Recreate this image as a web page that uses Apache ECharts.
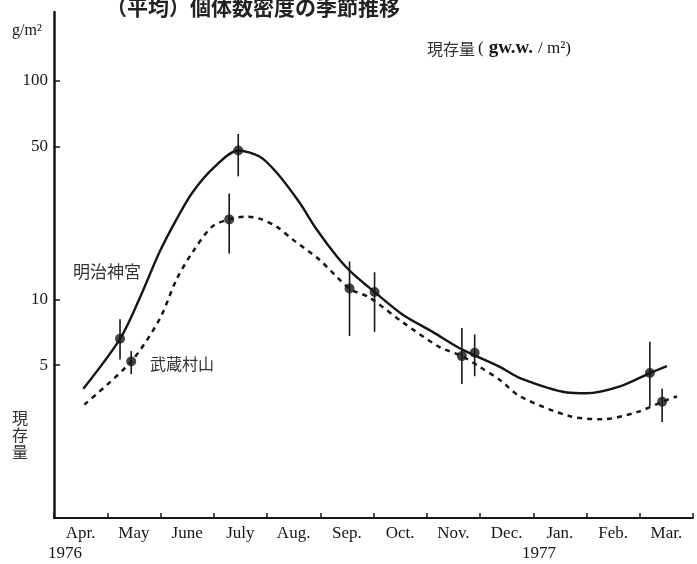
<!DOCTYPE html>
<html>
<head>
<meta charset="utf-8">
<script src="https://cdn.jsdelivr.net/npm/echarts@6/dist/echarts.min.js"></script>
<style>
  html, body { margin: 0; padding: 0; background: #fff; }
  #main { width: 697px; height: 564px; }
</style>
</head>
<body>
<div id="main"></div>
<script>
// 月ラベル（x軸）
var months = ['Apr.', 'May', 'June', 'July', 'Aug.', 'Sep.', 'Oct.', 'Nov.', 'Dec.', 'Jan.', 'Feb.', 'Mar.'];
var yTicks = [5, 10, 50, 100];

// 明治神宮（実線）: 4月1日からの月数, 現存量
var meijiCurveX = [0.55, 1.24, 1.6, 1.98, 2.3, 2.6, 3.0, 3.46, 3.86, 4.18, 4.61, 4.93, 5.32, 5.57, 6.02, 6.55, 7.11, 7.66, 8.38, 8.75, 9.63, 10.0, 10.63, 11.19, 11.51];
var meijiCurveV = [3.9, 6.6, 10, 16.4, 23.2, 30.8, 40, 47.9, 45, 38, 27.7, 20.9, 15.6, 13.4, 10.8, 8.5, 7.1, 5.9, 4.9, 4.36, 3.75, 3.72, 4.0, 4.6, 4.95];
var meijiPtX = [1.24, 3.46, 6.02, 7.9, 11.19];
var meijiPtV = [6.6, 47.9, 10.8, 5.7, 4.6];
var meijiLo = [5.3, 36.5, 7.1, 4.45, 3.25];
var meijiHi = [8.1, 57, 13.3, 6.9, 6.4];

// 武蔵村山（破線）
var musashiCurveX = [0.57, 1.45, 1.98, 2.3, 2.6, 2.97, 3.29, 3.61, 3.86, 4.18, 4.48, 4.98, 5.55, 5.92, 6.55, 7.24, 7.66, 8.0, 8.38, 8.75, 9.69, 10.31, 10.95, 11.42, 11.7];
var musashiCurveV = [3.3, 5.2, 8.1, 12.3, 16.4, 21.5, 23.2, 23.9, 23.4, 21.5, 18.8, 15.2, 11.2, 10.2, 7.85, 6.05, 5.5, 4.9, 4.27, 3.6, 2.92, 2.83, 3.05, 3.4, 3.6];
var musashiPtX = [1.45, 3.29, 5.55, 7.66, 11.42];
var musashiPtV = [5.2, 23.2, 11.2, 5.5, 3.4];
var musashiLo = [4.55, 16.2, 6.8, 4.1, 2.75];
var musashiHi = [5.8, 30.5, 14.9, 7.4, 3.9];

function zip(a, b) { return a.map(function (v, i) { return [v, b[i]]; }); }
function zip3(a, b, c) { return a.map(function (v, i) { return [v, b[i], c[i]]; }); }

var serif = '"Liberation Serif", "DejaVu Serif", serif';
var jp = '"Noto Sans CJK JP", sans-serif';
var ink = '#161616';

function errorBar(params, api) {
  var x = api.value(0);
  var lo = api.coord([x, api.value(1)]);
  var hi = api.coord([x, api.value(2)]);
  return {
    type: 'line',
    shape: { x1: lo[0], y1: lo[1], x2: hi[0], y2: hi[1] },
    style: { stroke: ink, lineWidth: 1.6 }
  };
}

var myChart = echarts.init(document.getElementById('main'));
myChart.setOption({
  animation: false,
  backgroundColor: '#fff',
  grid: { left: 54, right: 4, top: 12, bottom: 46 },
  xAxis: [{
    type: 'value',
    min: 0, max: 12, interval: 1,
    position: 'bottom',
    axisLine: { lineStyle: { color: ink, width: 2 } },
    axisTick: { inside: true, length: 5, lineStyle: { color: ink, width: 1.5 } },
    axisLabel: { show: false },
    splitLine: { show: false }
  }, {
    type: 'category',
    data: months,
    position: 'bottom',
    boundaryGap: true,
    axisLine: { show: false },
    axisTick: { show: false },
    axisLabel: { interval: 0, margin: 7, color: ink, fontFamily: serif, fontSize: 17 }
  }],
  yAxis: {
    type: 'log',
    logBase: 10,
    min: 1, max: 206,
    axisLine: { show: true, lineStyle: { color: ink, width: 2.5 } },
    axisTick: { show: true, inside: true, length: 6, customValues: yTicks, lineStyle: { color: ink, width: 1.5 } },
    axisLabel: { customValues: yTicks, margin: 6, color: ink, fontFamily: serif, fontSize: 17 },
    splitLine: { show: false }
  },
  series: [{
    name: '明治神宮',
    type: 'line',
    smooth: 0.3,
    showSymbol: false,
    data: zip(meijiCurveX, meijiCurveV),
    lineStyle: { color: ink, width: 2.4 }
  }, {
    name: '武蔵村山',
    type: 'line',
    smooth: 0.3,
    showSymbol: false,
    data: zip(musashiCurveX, musashiCurveV),
    lineStyle: { color: ink, width: 2.5, type: [5, 5] }
  }, {
    type: 'custom',
    renderItem: errorBar,
    encode: { x: 0, y: [1, 2] },
    data: zip3(meijiPtX, meijiLo, meijiHi).concat(zip3(musashiPtX, musashiLo, musashiHi)),
    z: 3
  }, {
    type: 'scatter',
    symbol: 'circle',
    symbolSize: 10,
    itemStyle: { color: ink },
    data: zip(meijiPtX, meijiPtV).concat(zip(musashiPtX, musashiPtV)),
    z: 4
  }],
  graphic: [{
    type: 'text', left: 106, top: -3,
    style: { text: '（平均）個体数密度の季節推移', font: 'bold 21px ' + jp, fill: '#222' }
  }, {
    type: 'text', left: 12, top: 23,
    style: { text: 'g/m²', font: '16px ' + serif, fill: ink }
  }, {
    type: 'text', left: 427, top: 39,
    style: {
      text: '{c|現存量}{p|(}{b|gw.w.}{p|/ m²)}',
      rich: {
        c: { fontFamily: jp, fontSize: 16, fill: '#333' },
        p: { fontFamily: serif, fontSize: 17, fill: ink, padding: [0, 3] },
        b: { fontFamily: serif, fontSize: 19, fontWeight: 'bold', fill: ink, padding: [0, 2] }
      }
    }
  }, {
    type: 'text', left: 73, top: 263,
    style: { text: '明治神宮', font: '17px ' + jp, fill: '#333' }
  }, {
    type: 'text', left: 150, top: 356,
    style: { text: '武蔵村山', font: '16px ' + jp, fill: '#333' }
  }, {
    type: 'text', left: 12, top: 409,
    style: { text: '現\n存\n量', font: '16px ' + jp, fill: '#333', lineHeight: 17 }
  }, {
    type: 'text', left: 48, top: 545,
    style: { text: '1976', font: '17px ' + serif, fill: ink }
  }, {
    type: 'text', left: 522, top: 545,
    style: { text: '1977', font: '17px ' + serif, fill: ink }
  }]
});
</script>
</body>
</html>
